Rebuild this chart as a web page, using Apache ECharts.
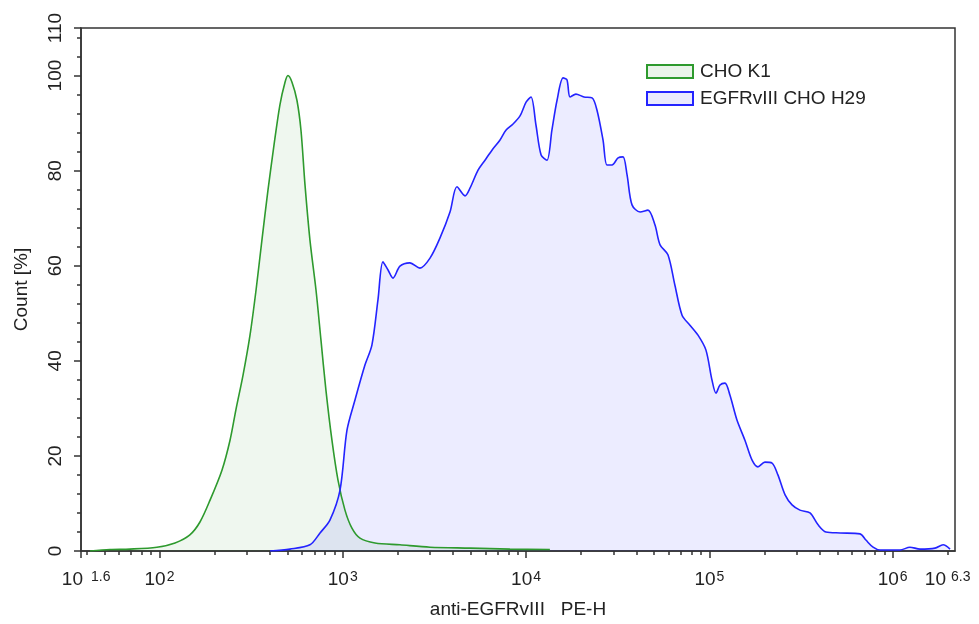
<!DOCTYPE html>
<html>
<head>
<meta charset="utf-8">
<script src="https://cdn.jsdelivr.net/npm/echarts@6/dist/echarts.min.js"></script>
<style>
html,body{margin:0;padding:0;background:#fff;}
#chart{width:979px;height:624px;}
</style>
</head>
<body>
<div id="chart"></div>
<script>
// x values are log10 of the PE-H intensity
const k1Log = [1.621,1.730,1.839,1.986,2.085,2.166,2.221,2.276,2.341,2.385,2.417,2.456,2.494,2.527,2.559,2.592,2.625,2.657,2.685,2.701,2.723,2.750,2.772,2.794,2.821,2.854,2.881,2.908,2.941,2.974,3.012,3.050,3.094,3.176,3.312,3.476,3.694,3.912,4.130];
const k1Count = [0,0.3,0.4,0.8,1.7,3.4,6.1,10.7,17.0,23.3,29.7,37.0,45.4,54.9,65.4,75.9,85.4,93.8,98.6,100,98.6,94.8,88.5,77.0,65.4,54.9,44.4,33.9,23.3,14.9,8.6,4.8,2.7,1.7,1.3,0.8,0.6,0.4,0.3];

const h29Log = [2.603,2.712,2.821,2.876,2.930,2.985,3.023,3.067,3.121,3.159,3.192,3.219,3.247,3.274,3.312,3.366,3.421,3.476,3.530,3.585,3.623,3.667,3.694,3.738,3.776,3.814,3.857,3.890,3.929,3.967,4.000,4.027,4.054,4.082,4.114,4.141,4.169,4.202,4.223,4.240,4.272,4.316,4.360,4.387,4.420,4.441,4.469,4.502,4.529,4.551,4.578,4.622,4.665,4.703,4.731,4.774,4.812,4.851,4.894,4.938,4.981,5.014,5.036,5.058,5.085,5.112,5.150,5.194,5.233,5.265,5.303,5.342,5.374,5.413,5.451,5.494,5.549,5.593,5.636,5.713,5.822,5.854,5.893,5.931,6.040,6.094,6.149,6.231,6.275,6.313];
const h29Count = [0,0.4,1.3,3.8,6.5,12.8,25.4,31.8,39.1,43.3,52.8,60.8,59.1,57.4,59.9,60.6,59.5,61.6,65.8,71.3,76.6,74.7,76.3,80.1,82.2,84.3,86.4,88.5,89.8,91.5,94.4,95.5,89.6,83.3,82.2,88.5,94.8,99.5,99.1,95.5,96.1,95.5,95.3,92.7,86.4,81.2,81.2,82.7,82.9,79.1,72.8,71.3,71.7,68.6,64.4,62.3,55.9,49.6,47.5,45.4,42.3,36.0,33.2,34.9,35.3,32.8,27.6,23.3,19.1,17.7,18.7,18.5,16.0,11.8,9.7,8.6,8.0,5.5,4.0,3.8,3.6,2.3,0.8,0.2,0.2,0.8,0.4,0.6,1.3,0.4];

const seriesNames = ['CHO K1', 'EGFRvIII CHO H29'];
const xLabelExps = [1.6, 2, 3, 4, 5, 6, 6.3];
const yLabels = [0, 20, 40, 60, 80, 100, 110];

const xMin = 1.572, xMax = 6.34;
const FONT = "'Liberation Sans', Arial, sans-serif";
const TXT = '#222';

// log minor ticks 2..9 x 10^n inside the axis range
const xMajorTicks = [xMin, 2, 3, 4, 5, 6];
const xMinorTicks = [];
for (let n = 1; n <= 6; n++) {
  for (let k = 2; k <= 9; k++) {
    const v = Math.log10(k * Math.pow(10, n));
    if (v > xMin && v < xMax) xMinorTicks.push(v);
  }
}
const yMinorTicks = [];
for (let v = 4; v < 110; v += 4) if (v % 20 !== 0) yMinorTicks.push(v);

function zip(a, b) { return a.map((x, i) => [x, b[i]]); }

const axisLineStyle = {color: '#333', width: 1.5};

const option = {
  animation: false,
  textStyle: {fontFamily: FONT},
  grid: {left: 81, right: 24, top: 28, bottom: 73, show: true, borderColor: '#333', borderWidth: 1.5, backgroundColor: 'transparent'},
  legend: {
    orient: 'vertical', left: 641, top: 57, itemGap: 8,
    itemWidth: 46, itemHeight: 13, icon: 'rect',
    textStyle: {fontSize: 19, color: TXT, fontFamily: FONT, padding: [0, 0, 0, 2]},
    data: [
      {name: seriesNames[0], itemStyle: {color: '#e9f4e9', borderColor: '#2e9a2e', borderWidth: 2}},
      {name: seriesNames[1], itemStyle: {color: '#e9e9fd', borderColor: '#2323ff', borderWidth: 2}}
    ]
  },
  xAxis: [{
    type: 'value', min: xMin, max: xMax,
    name: 'anti-EGFRvIII   PE-H', nameLocation: 'middle', nameGap: 49,
    nameTextStyle: {fontSize: 19, color: TXT, fontFamily: FONT},
    axisLine: {show: true, onZero: false, lineStyle: axisLineStyle},
    axisTick: {show: true, customValues: xMajorTicks, length: 7, lineStyle: axisLineStyle},
    axisLabel: {
      customValues: xLabelExps, margin: 19, color: TXT,
      formatter: function (v) {
        const s = String(+v.toFixed(1));
        const tag = s === '1.6' ? 'e1' : (s === '6.3' ? 'e2' : 'e');
        return '{b|10}{' + tag + '|' + s + '}';
      },
      rich: {
        b: {fontSize: 19, color: TXT, fontFamily: FONT},
        e: {fontSize: 14, color: TXT, fontFamily: FONT, verticalAlign: 'top', padding: [0, 0, 3, 1]},
        e1: {fontSize: 14, color: TXT, fontFamily: FONT, verticalAlign: 'top', padding: [0, 0, 3, 8]},
        e2: {fontSize: 14, color: TXT, fontFamily: FONT, verticalAlign: 'top', padding: [0, 0, 3, 5]}
      }
    },
    splitLine: {show: false}
  }, {
    type: 'value', min: xMin, max: xMax, position: 'bottom', offset: 0,
    axisLine: {show: false},
    axisTick: {show: true, customValues: xMinorTicks, length: 4, lineStyle: axisLineStyle},
    axisLabel: {show: false},
    splitLine: {show: false}
  }],
  yAxis: [{
    type: 'value', min: 0, max: 110,
    name: 'Count [%]', nameLocation: 'middle', nameGap: 50,
    nameTextStyle: {fontSize: 19, color: TXT, fontFamily: FONT},
    axisLine: {show: true, onZero: false, lineStyle: axisLineStyle},
    axisTick: {show: true, customValues: yLabels, length: 7, lineStyle: axisLineStyle},
    axisLabel: {customValues: yLabels, rotate: 90, margin: 16, fontSize: 19, color: TXT, fontFamily: FONT},
    splitLine: {show: false}
  }, {
    type: 'value', min: 0, max: 110, position: 'left', offset: 0,
    axisLine: {show: false},
    axisTick: {show: true, customValues: yMinorTicks, length: 4, lineStyle: axisLineStyle},
    axisLabel: {show: false},
    splitLine: {show: false}
  }],
  series: [{
    name: seriesNames[0], type: 'line', data: zip(k1Log, k1Count),
    showSymbol: false, symbol: 'none', smooth: 0.3,
    lineStyle: {color: '#2e9a2e', width: 1.6},
    itemStyle: {color: '#2e9a2e'},
    areaStyle: {color: 'rgba(46,154,46,0.11)'}
  }, {
    name: seriesNames[1], type: 'line', data: zip(h29Log, h29Count),
    showSymbol: false, symbol: 'none', smooth: 0.3,
    lineStyle: {color: '#2323ff', width: 1.6},
    itemStyle: {color: '#2323ff'},
    areaStyle: {color: 'rgba(35,35,255,0.12)'}
  }]
};

const myChart = echarts.init(document.getElementById('chart'));
myChart.setOption(option);
window.addEventListener('resize', function () { myChart.resize(); });
</script>
</body>
</html>
